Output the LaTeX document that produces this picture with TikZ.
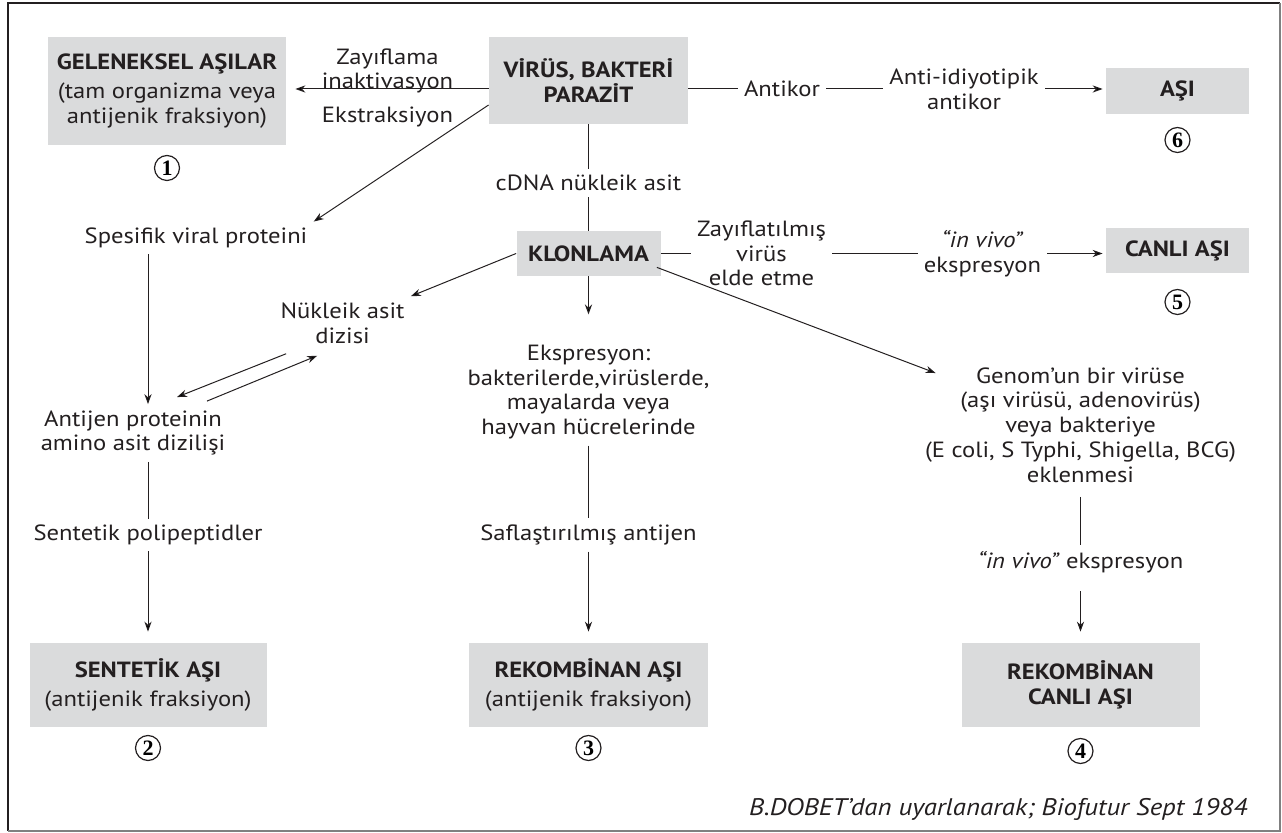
\documentclass[tikz,border=0pt]{standalone}
\usepackage{fontspec}
\setmainfont{PT Sans}[FakeStretch=1.12]
\newfontfamily\numfont{Liberation Serif}
\usetikzlibrary{arrows.meta,positioning}
\tikzset{>/.tip={Stealth[length=5pt,width=3.6pt]}}
\definecolor{boxgray}{RGB}{218,219,220}
\definecolor{inkgray}{RGB}{35,31,32}
\begin{document}
\begin{tikzpicture}[node distance=2cm,on grid,font=\fontsize{11}{12.4}\selectfont,
    box/.style={fill=boxgray,inner sep=0pt,align=center,text=inkgray},
    lbl/.style={inner sep=3pt,align=center,text=inkgray},
    num/.style={circle,draw=inkgray,line width=0.6pt,minimum size=12.5pt,inner sep=0pt,font=\numfont\bfseries\fontsize{11}{11}\selectfont},
    conn/.style={draw=inkgray,line width=0.5pt}]
  \useasboundingbox (0,0) rectangle (641pt,-416.5pt);
  \draw[line width=1.2pt,inkgray] (4pt,-415.5pt) -- (4pt,-1.5pt) -- (640pt,-1.5pt);
  \draw[line width=0.6pt,gray] (4pt,-415.5pt) -- (640pt,-415.5pt) -- (640pt,-1.5pt);
  \node[box,minimum width=99.5pt,minimum height=43.5pt] (virus) at (294.25pt,-40.25pt) {\textbf{VİRÜS, BAKTERİ}\\\textbf{PARAZİT}};
  \node[box,minimum width=119pt,minimum height=54pt] (gelen) [below left=5.25pt and 210.75pt of virus] {\textbf{GELENEKSEL AŞILAR}\\[2pt](tam organizma veya\\antijenik fraksiyon)};
  \node[num] (n1) [below=38.5pt of gelen] {1};
  \node[box,minimum width=71.5pt,minimum height=23pt] (asi) [below right=5.25pt and 294.5pt of virus] {\textbf{AŞI}};
  \node[num] (n6) [below=24.5pt of asi] {6};
  \node[lbl] (antikor) [below right=4.25pt and 96.75pt of virus] {Antikor};
  \node[lbl] (antiid) [right=91pt of antikor] {Anti-idiyotipik\\antikor};
  \node[lbl] (cdna) [below=51.25pt of virus] {cDNA nükleik asit};
  \node[box,minimum width=72pt,minimum height=22.5pt] (klon) [below=86.5pt of virus] {\textbf{KLONLAMA}};
  \node[lbl] (zayifv) [right=86.5pt of klon] {Zayıflatılmış\\virüs\\elde etme};
  \node[lbl] (vivo1) [right=110.5pt of zayifv] {\textit{“in vivo”}\\ekspresyon};
  \node[box,minimum width=71.5pt,minimum height=22.5pt] (canli) [below=79.75pt of asi] {\textbf{CANLI AŞI}};
  \node[num] (n5) [below=25.75pt of canli] {5};
  \node[lbl] (spes) [below right=73.5pt and 14.5pt of gelen] {Spesifik viral proteini};
  \node[lbl] (nukleik) [below left=34.75pt and 123pt of klon] {Nükleik asit\\dizisi};
  \node[lbl] (antijen) [below left=97.5pt and 31.5pt of spes] {Antijen proteinin\\amino asit dizilişi};
  \node[lbl] (sentpol) [below right=51pt and 7.5pt of antijen] {Sentetik polipeptidler};
  \node[box,minimum width=118.5pt,minimum height=42pt] (sentetik) [below=75pt of sentpol] {\textbf{SENTETİK AŞI}\\[2pt](antijenik fraksiyon)};
  \node[num] (n2) [below=31.5pt of sentetik] {2};
  \node[lbl] (ekspr) [below=69.25pt of klon] {Ekspresyon:\\bakterilerde,virüslerde,\\mayalarda veya\\hayvan hücrelerinde};
  \node[lbl] (saflas) [below=71.5pt of ekspr] {Saflaştırılmış antijen};
  \node[box,minimum width=119.5pt,minimum height=42pt] (rekomb) [below=75pt of saflas] {\textbf{REKOMBİNAN AŞI}\\[2pt](antijenik fraksiyon)};
  \node[num] (n3) [below=31.5pt of rekomb] {3};
  \node[lbl] (genom) [below right=85.75pt and 246pt of klon] {Genom’un bir virüse\\(aşı virüsü, adenovirüs)\\veya bakteriye\\(E coli, S Typhi, Shigella, BCG)\\eklenmesi};
  \node[lbl] (vivo2) [below=68.5pt of genom] {\textit{“in vivo”} ekspresyon};
  \node[box,minimum width=119pt,minimum height=42pt] (rcanli) [below=61.5pt of vivo2] {\textbf{REKOMBİNAN}\\\textbf{CANLI AŞI}};
  \node[num] (n4) [below=33pt of rcanli] {4};
  \node[inner sep=0pt,anchor=base east,text=inkgray,font=\fontsize{12}{14}\selectfont] (kaynak) at (624pt,-408pt) {\textit{B.DOBET’dan uyarlanarak; Biofutur Sept 1984}};
  \draw[conn]
  ([yshift=-4.25pt]virus.west) edge[->,shorten >=4.5pt] node[lbl,above=-2.5pt,inner sep=0pt] (zay) {Zayıflama\\inaktivasyon} node[lbl,below=8.5pt,inner sep=0pt] (eks) {Ekstraksiyon} ([yshift=-4.25pt]virus.west -| gelen.east)
  ([yshift=-12.25pt]virus.west) edge[->] (spes.north east)
  (virus) edge (cdna)
  (cdna) edge (klon)
  ([yshift=-4.25pt]virus.east) edge (antikor)
  (antikor) edge (antiid)
  (antiid) edge[->,shorten >=1.5pt] (antiid -| asi.west)
  (klon) edge (zayifv)
  (zayifv) edge (vivo1)
  (vivo1) edge[->,shorten >=1.5pt] (vivo1 -| canli.west)
  (klon.west) edge[->] (nukleik.north east)
  (klon) edge[->,shorten >=12pt] (ekspr)
  ([xshift=-2pt,yshift=4.5pt]klon.south east) edge[->] ([xshift=8.5pt,yshift=-6pt]genom.north west)
  (spes.south -| sentpol) edge[->] (antijen.north -| sentpol)
  ([xshift=6pt,yshift=-2pt]nukleik.south west) edge[->] ([xshift=22pt,yshift=3.5pt]antijen.north)
  ([xshift=37pt,yshift=1.5pt]antijen.north) edge[->] ([xshift=21.5pt,yshift=-3pt]nukleik.south west)
  (antijen.south -| sentpol) edge (sentpol)
  (sentpol) edge[->,shorten >=5.5pt] (sentetik)
  (ekspr) edge (saflas)
  (saflas) edge[->,shorten >=5.5pt] (rekomb)
  (genom) edge[shorten <=4pt] (vivo2)
  (vivo2) edge[->,shorten <=6pt,shorten >=5.5pt] (rcanli);
\end{tikzpicture}
\end{document}
